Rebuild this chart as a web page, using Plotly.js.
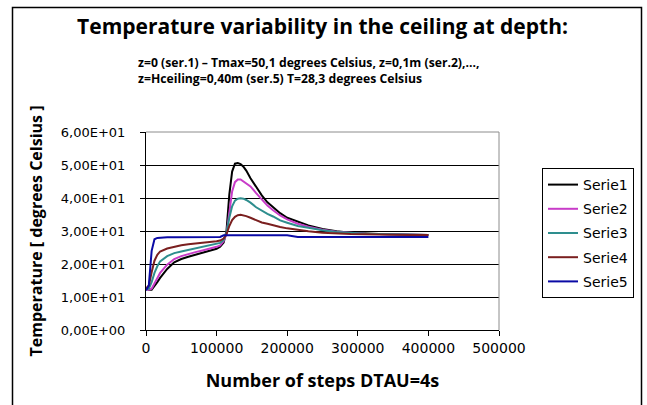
<!DOCTYPE html>
<html>
<head>
<meta charset="utf-8">
<script src="https://cdn.plot.ly/plotly-3.0.1.min.js"></script>
<style>html,body{margin:0;padding:0;background:#fff;}#chart{width:647px;height:405px;}</style>
</head>
<body>
<div id="chart"></div>
<script>
// ---- data ----
const steps = [0, 4000, 8000, 12000, 16000, 20000, 30000, 40000, 50000, 60000, 70000, 80000, 90000, 100000, 105000, 110000, 114000, 118000, 122000, 126000, 130000, 134000, 138000, 142000, 148000, 156000, 164000, 172000, 180000, 190000, 200000, 215000, 230000, 250000, 270000, 290000, 310000, 330000, 350000, 375000, 400000];

const serie1 = [12.5, 12.2, 12.2, 13.2, 14.5, 15.8, 18.5, 20.5, 21.5, 22.2, 22.8, 23.3, 23.9, 24.6, 25.2, 26.5, 30.0, 41.0, 48.0, 50.4, 50.6, 50.3, 49.5, 48.3, 46.0, 43.2, 40.8, 38.7, 37.2, 35.4, 34.0, 32.9, 31.7, 30.6, 29.9, 29.5, 29.2, 29.1, 29.0, 28.9, 28.8];
const serie2 = [12.4, 12.2, 12.5, 14.0, 15.8, 17.3, 19.8, 21.5, 22.4, 23.1, 23.6, 24.1, 24.6, 25.2, 25.6, 27.0, 29.0, 36.0, 42.0, 44.8, 45.6, 45.6, 45.0, 44.6, 43.5, 41.5, 39.6, 37.7, 36.3, 34.7, 33.5, 32.2, 31.3, 30.4, 29.8, 29.4, 29.2, 29.1, 29.0, 28.9, 28.8];
const serie3 = [12.5, 12.5, 14.5, 17.3, 19.3, 20.8, 22.4, 23.3, 23.8, 24.3, 24.8, 25.2, 25.7, 26.1, 26.4, 27.3, 29.5, 34.0, 37.5, 39.2, 39.8, 39.9, 39.8, 39.4, 38.6, 37.2, 36.1, 35.2, 34.4, 33.2, 32.5, 31.5, 31.0, 30.2, 29.7, 29.4, 29.2, 29.1, 29.0, 28.9, 28.8];
const serie4 = [12.6, 13.5, 17.5, 21.0, 22.8, 23.8, 24.7, 25.3, 25.7, 26.0, 26.3, 26.5, 26.7, 26.9, 27.1, 27.7, 29.0, 31.5, 33.3, 34.3, 34.8, 34.9, 34.8, 34.5, 34.0, 33.2, 32.6, 32.2, 31.7, 31.2, 30.8, 30.3, 29.9, 29.5, 29.2, 29.1, 29.0, 28.9, 28.9, 28.8, 28.8];
const serie5 = [12.0, 13.5, 24.0, 27.5, 27.9, 28.0, 28.1, 28.1, 28.1, 28.1, 28.1, 28.1, 28.1, 28.1, 28.2, 28.7, 28.7, 28.7, 28.7, 28.7, 28.7, 28.7, 28.7, 28.7, 28.7, 28.7, 28.7, 28.7, 28.7, 28.7, 28.7, 28.2, 28.2, 28.2, 28.2, 28.2, 28.2, 28.2, 28.2, 28.2, 28.2];

const seriesNames = ["Serie1", "Serie2", "Serie3", "Serie4", "Serie5"];
const seriesValues = [serie1, serie2, serie3, serie4, serie5];
const seriesColors = ["#000000", "#C83CC8", "#2E8E8E", "#7A1F1F", "#0A0AA5"];

const xTickVals = [0, 100000, 200000, 300000, 400000, 500000];
const yTickVals = [0, 10, 20, 30, 40, 50, 60];
const yTickText = ["0,00E+00", "1,00E+01", "2,00E+01", "3,00E+01", "4,00E+01", "5,00E+01", "6,00E+01"];

const titleText = "Temperature variability in the ceiling at depth:";
const subtitleText = "z=0 (ser.1) \u2013 Tmax=50,1 degrees Celsius, z=0,1m (ser.2),...,<br>z=Hceiling=0,40m (ser.5) T=28,3 degrees Celsius";
const xTitle = "Number of steps DTAU=4s";
const yTitle = "Temperature [ degrees Celsius ]";

// ---- layout helpers (pixel -> paper) ----
const W = 647, H = 405;
const M = {l: 146, r: 148, t: 132, b: 75};
const PW = W - M.l - M.r, PH = H - M.t - M.b;
const px = p => (p - M.l) / PW;
const py = p => (H - M.b - p) / PH;

const traces = seriesNames.map((name, i) => ({
  type: "scatter",
  mode: "lines",
  name: name,
  legendgroup: name,
  x: steps,
  y: seriesValues[i],
  line: {color: seriesColors[i], width: 2},
  hoverinfo: "x+y+name"
}));

const tickFont = {family: "DejaVu Sans, Arial, sans-serif", size: 13, color: "#000"};
const boldFont = (s) => ({family: "Open Sans, Lato, sans-serif", size: s, color: "#000", weight: "bold"});

const layout = {
  width: W, height: H,
  margin: M,
  paper_bgcolor: "#fff",
  plot_bgcolor: "#fff",
  showlegend: true,
  title: {
    text: "<b>" + titleText + "</b>",
    font: boldFont(21),
    x: 0.5, xref: "paper", xanchor: "center",
    y: 1 - 27 / H, yref: "container", yanchor: "middle"
  },
  xaxis: {
    range: [0, 500000],
    tickvals: xTickVals,
    tickformat: "d",
    ticks: "outside", ticklen: 5, tickcolor: "#000", tickwidth: 1,
    showline: true, linecolor: "#000", linewidth: 1,
    showgrid: false, zeroline: false,
    tickfont: {family: "DejaVu Sans, Arial, sans-serif", size: 14, color: "#000"},
    title: {text: "<b>" + xTitle + "</b>", font: boldFont(18), standoff: 19},
    automargin: false, fixedrange: true
  },
  yaxis: {
    range: [0, 60],
    tickvals: yTickVals,
    ticktext: yTickText,
    ticks: "outside", ticklen: 5, tickcolor: "#000", tickwidth: 1,
    showline: true, linecolor: "#000", linewidth: 1,
    showgrid: true, gridcolor: "#000", gridwidth: 1,
    zeroline: false,
    tickfont: tickFont,
    ticklabelstandoff: 12,
    title: {text: "<b>" + yTitle + "</b>", font: boldFont(16), standoff: 14},
    automargin: false, fixedrange: true
  },
  legend: {
    x: px(542), y: py(168), xanchor: "left", yanchor: "top",
    xref: "paper", yref: "paper",
    bgcolor: "#fff", bordercolor: "#000", borderwidth: 1,
    font: {family: "DejaVu Sans, Arial, sans-serif", size: 14, color: "#000"},
    traceorder: "grouped", tracegroupgap: 3,
    itemwidth: 30
  },
  annotations: [
    {
      xref: "paper", yref: "paper",
      x: px(136), y: py(71), xanchor: "left", yanchor: "middle",
      text: "<b>" + subtitleText + "</b>",
      align: "left", showarrow: false,
      font: boldFont(12.2)
    }
  ],
  shapes: [
    // gray plot-area border (top and right)
    {type: "line", xref: "paper", yref: "paper", x0: 0, x1: 1, y0: 1, y1: 1, line: {color: "#8c8c8c", width: 1}, layer: "above"},
    {type: "line", xref: "paper", yref: "paper", x0: 1, x1: 1, y0: 0, y1: 1, line: {color: "#8c8c8c", width: 1}, layer: "above"},
    // outer chart frame
    {type: "rect", xref: "paper", yref: "paper", x0: px(12.5), x1: px(641.5), y0: py(430), y1: py(7.5), line: {color: "#000", width: 1.5}, fillcolor: "rgba(0,0,0,0)", layer: "above"}
  ]
};

Plotly.newPlot("chart", traces, layout, {staticPlot: true, displayModeBar: false});
</script>
</body>
</html>
